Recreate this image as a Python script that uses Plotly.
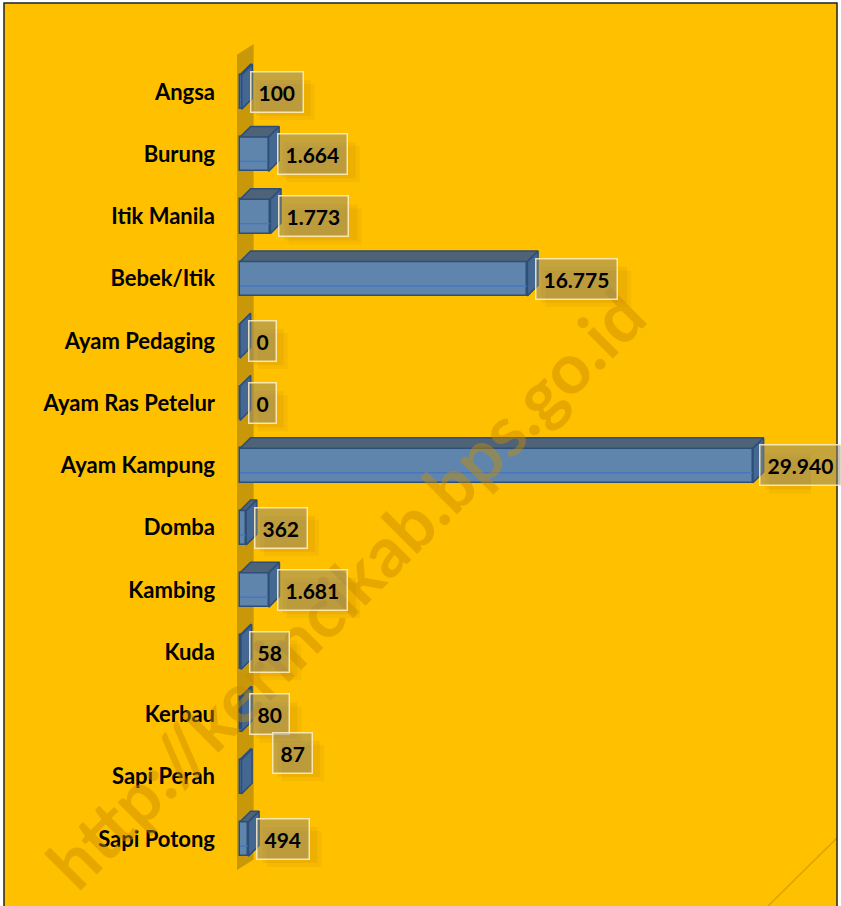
import plotly.graph_objects as go

# ---- data ----
categories = ["Angsa", "Burung", "Itik Manila", "Bebek/Itik", "Ayam Pedaging",
              "Ayam Ras Petelur", "Ayam Kampung", "Domba", "Kambing", "Kuda",
              "Kerbau", "Sapi Perah", "Sapi Potong"]
values = [100, 1664, 1773, 16775, 0, 0, 29940, 362, 1681, 58, 80, 87, 494]

# ---- geometry / style ----
W, H = 841, 906
ML, MR, MT, MB = 230, 30, 40, 26
X_RANGE = [-584, 33325]
Y_RANGE = [12.659, -0.835]
BAR_H = 0.55
DX = 620     # 3D depth in x data units
DY = 0.17    # 3D depth in category units
BG = "#FFC000"
FRONT = "rgb(96,133,172)"
TOP = "rgb(78,98,120)"
SIDE = "rgb(68,104,146)"
EDGE = "#2D4E78"
LABEL_SHIFT = {"Sapi Perah": (30, 24), "Ayam Kampung": (6, 0)}
FS = 21
PAD = 7

n = len(categories)
idx = list(range(n))

def px2paper(px, py):
    pw = W - ML - MR
    ph = H - MT - MB
    return (px - ML) / pw, 1 - (py - MT) / ph

fig = go.Figure()

# chart area background + border (paper coords)
bx0, by0 = px2paper(4, 3)
bx1, by1 = px2paper(837, 912)
fig.add_shape(type="rect", xref="paper", yref="paper", x0=bx0, y0=by1, x1=bx1, y1=by0,
              fillcolor=BG, line=dict(width=0), layer="below")

# faint diagonal line in the lower right corner
lx0, ly0 = px2paper(768, 906)
lx1, ly1 = px2paper(837, 838)
fig.add_shape(type="line", xref="paper", yref="paper", x0=lx0, y0=ly0, x1=lx1, y1=ly1,
              line=dict(color="rgba(205,150,0,0.7)", width=1.5), layer="below")

# back wall (below traces)
wall_x = [-175, DX + 175, DX + 175, -175]
wall_y = [-0.6, -0.6 - DY, n - 0.5 - DY, n - 0.5]
path = "M " + " L ".join(f"{x},{y}" for x, y in zip(wall_x, wall_y)) + " Z"
fig.add_shape(type="path", path=path, xref="x", yref="y",
              fillcolor="rgb(200,152,8)", line=dict(width=0), layer="below")

# soft shadows behind the value labels (pixel-sized shapes anchored at the bar ends)
for c, i, v in zip(categories, idx, values):
    xs, ys = LABEL_SHIFT.get(c, (8, 0))
    txt = f"{v:,}".replace(",", ".")
    wpx = 0.6 * FS * sum(1 for ch in txt if ch.isdigit()) + 0.27 * FS * txt.count(".") + 2 * PAD + 3
    for k, a in ((10, 0.10), (6, 0.12)):
        fig.add_shape(type="rect", xref="x", yref="y", xsizemode="pixel", ysizemode="pixel",
                      xanchor=v, yanchor=i,
                      x0=xs + k, x1=xs + k + wpx, y0=ys - 18 - k, y1=ys + 18 - k,
                      fillcolor=f"rgba(170,115,0,{a})", line=dict(width=0), layer="below")

# top and side faces
tx, ty, sx, sy, hx, hy = [], [], [], [], [], []
for i, v in zip(idx, values):
    y0 = i - BAR_H / 2
    y1 = i + BAR_H / 2
    tx += [0, v, v + DX, DX, 0, None]
    ty += [y0, y0, y0 - DY, y0 - DY, y0, None]
    sx += [v, v, v + DX, v + DX, v, None]
    sy += [y0, y1, y1 - DY, y0 - DY, y0, None]
    if v > 0:
        hx += [0, v, None]
        hy += [y1 - 0.16, y1 - 0.16, None]

fig.add_trace(go.Bar(x=values, y=idx, orientation="h", width=BAR_H,
                     marker=dict(color=FRONT, line=dict(color=EDGE, width=1.5)),
                     hoverinfo="x", showlegend=False))
fig.add_trace(go.Scatter(x=hx, y=hy, mode="lines",
                         line=dict(color="rgb(72,118,190)", width=1.5),
                         hoverinfo="skip", showlegend=False))
fig.add_trace(go.Scatter(x=tx, y=ty, fill="toself", mode="lines",
                         fillcolor=TOP, line=dict(color=EDGE, width=1.5),
                         hoverinfo="skip", showlegend=False))
fig.add_trace(go.Scatter(x=sx, y=sy, fill="toself", mode="lines",
                         fillcolor=SIDE, line=dict(color=EDGE, width=1.5),
                         hoverinfo="skip", showlegend=False))

# watermark
wx, wy = px2paper(345, 588)
fig.add_annotation(x=wx, y=wy, xref="paper", yref="paper",
                   text="http://kerincikab.bps.go.id", showarrow=False,
                   textangle=-45, xanchor="center", yanchor="middle",
                   font=dict(family="Lato", size=70, color="rgba(200,140,0,0.45)",
                             weight="bold"))

# value labels
for c, i, v in zip(categories, idx, values):
    xs, ys = LABEL_SHIFT.get(c, (8, 0))
    txt = f"{v:,}".replace(",", ".")
    fig.add_annotation(x=v, y=i, text=txt,
                       xanchor="left", yanchor="middle", showarrow=False,
                       xshift=xs, yshift=ys,
                       font=dict(family="Lato", size=FS, color="black", weight="bold"),
                       bgcolor="rgba(140,135,120,0.5)",
                       bordercolor="rgba(255,240,200,0.85)", borderwidth=1.5,
                       borderpad=PAD)

# outer border
fig.add_shape(type="rect", xref="paper", yref="paper", x0=bx0, y0=by1, x1=bx1, y1=by0,
              line=dict(color="#222222", width=1.5), layer="above")

fig.update_layout(
    width=W, height=H,
    margin=dict(l=ML, r=MR, t=MT, b=MB),
    paper_bgcolor="white", plot_bgcolor="rgba(0,0,0,0)",
    bargap=0,
    xaxis=dict(visible=False, range=X_RANGE, fixedrange=True),
    yaxis=dict(range=Y_RANGE, tickvals=idx, ticktext=categories,
               showgrid=False, zeroline=False, showline=False,
               ticks="", ticklabelstandoff=14, fixedrange=True,
               tickfont=dict(family="Lato", size=22, color="black", weight="bold")),
)

fig.write_html("out.html", config={"displayModeBar": False},
               post_script="document.body.style.margin='0';")
